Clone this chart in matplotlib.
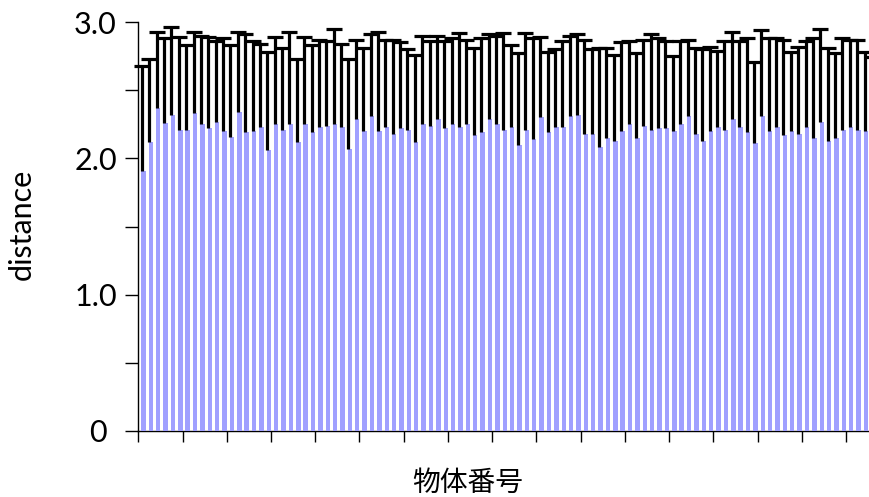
import numpy as np
import matplotlib
matplotlib.use("Agg")
import matplotlib.pyplot as plt
from matplotlib.ticker import FixedLocator, FixedFormatter, NullFormatter
from matplotlib.transforms import ScaledTranslation

# Mean distance per object and the upper error (one-sided)
object_ids = list(range(1, 101))
mean_distance = [
    1.91, 2.12, 2.37, 2.26, 2.32, 2.21, 2.21, 2.33, 2.25, 2.22,
    2.27, 2.20, 2.16, 2.34, 2.19, 2.20, 2.23, 2.06, 2.25, 2.21,
    2.25, 2.12, 2.25, 2.19, 2.23, 2.24, 2.25, 2.23, 2.07, 2.29,
    2.20, 2.31, 2.20, 2.23, 2.18, 2.22, 2.21, 2.12, 2.25, 2.24,
    2.29, 2.22, 2.25, 2.23, 2.25, 2.17, 2.19, 2.29, 2.25, 2.21,
    2.23, 2.10, 2.21, 2.14, 2.30, 2.19, 2.23, 2.23, 2.31, 2.32,
    2.18, 2.18, 2.08, 2.15, 2.13, 2.20, 2.25, 2.15, 2.24, 2.21,
    2.22, 2.22, 2.20, 2.25, 2.31, 2.18, 2.13, 2.20, 2.23, 2.21,
    2.29, 2.23, 2.19, 2.11, 2.31, 2.20, 2.23, 2.17, 2.20, 2.18,
    2.23, 2.15, 2.27, 2.13, 2.15, 2.21, 2.23, 2.21, 2.20, 2.20,
]
upper_error = [
    0.77, 0.61, 0.56, 0.62, 0.64, 0.68, 0.62, 0.60, 0.65, 0.67,
    0.59, 0.68, 0.67, 0.59, 0.72, 0.66, 0.61, 0.72, 0.64, 0.60,
    0.68, 0.61, 0.64, 0.64, 0.64, 0.62, 0.70, 0.61, 0.66, 0.58,
    0.61, 0.60, 0.73, 0.64, 0.69, 0.63, 0.59, 0.64, 0.65, 0.62,
    0.61, 0.64, 0.63, 0.69, 0.62, 0.64, 0.69, 0.62, 0.65, 0.71,
    0.60, 0.67, 0.71, 0.74, 0.59, 0.59, 0.57, 0.63, 0.59, 0.59,
    0.69, 0.62, 0.73, 0.66, 0.63, 0.65, 0.61, 0.62, 0.63, 0.70,
    0.66, 0.64, 0.55, 0.61, 0.56, 0.63, 0.67, 0.62, 0.56, 0.65,
    0.64, 0.63, 0.69, 0.60, 0.63, 0.68, 0.65, 0.70, 0.58, 0.64,
    0.63, 0.73, 0.68, 0.68, 0.62, 0.67, 0.64, 0.66, 0.58, 0.54,
]
y_ticks = [0, 0.5, 1.0, 1.5, 2.0, 2.5, 3.0]
y_tick_labels = ["0", "", "1.0", "", "2.0", "", "3.0"]
x_label = "物体番号"
y_label = "distance"

latin = ["Lato", "DejaVu Sans"]
cjk = ["Noto Sans CJK JP", "DejaVu Sans"]

W, H = 869, 497
fig = plt.figure(figsize=(W / 100, H / 100), dpi=100)
cell = 7.373  # pixels per object
x0, x1 = 0.5, 100.9
ax = fig.add_axes([138.3 / W, 66 / H, (x1 - x0) * cell / W, 409 / H])

ids = np.array(object_ids)
means = np.array(mean_distance)
errs = np.array(upper_error)
tops = means + errs

ax.bar(ids + 0.2, means, width=0.6, color="#a0a0ff", zorder=3, clip_on=False)

# one-sided error bars: stem from the bar top, cap only at the upper end
ax.vlines(ids, means, tops, colors="black", linewidth=2.3, zorder=4,
          clip_on=False)
ax.plot(ids, tops, linestyle="none", marker="_", markersize=11.6,
        markeredgewidth=2.3, color="black", zorder=4, clip_on=False)

ax.set_xlim(x0, x1)
ax.set_ylim(0, 3.0)

for side in ("top", "right"):
    ax.spines[side].set_visible(False)
for side in ("left", "bottom"):
    ax.spines[side].set_linewidth(1.0)
    ax.spines[side].set_color("black")

ax.xaxis.set_major_locator(FixedLocator(np.arange(0.5, 100, 6)))
ax.xaxis.set_major_formatter(NullFormatter())
ax.tick_params(axis="x", direction="out", length=7.7, width=1.0, color="black")

ax.yaxis.set_major_locator(FixedLocator(y_ticks))
ax.yaxis.set_major_formatter(FixedFormatter(y_tick_labels))
ax.tick_params(axis="y", direction="out", length=9.4, width=1.0, color="black",
               pad=6, labelsize=22)
fig.canvas.draw()
for lbl in ax.get_yticklabels():
    lbl.set_fontfamily(latin)
    if lbl.get_text() == "0":
        lbl.set_transform(lbl.get_transform()
                          + ScaledTranslation(-0.10, 0, fig.dpi_scale_trans))

fig.text(22 / W, 1 - 224 / H, y_label, rotation=90, ha="center", va="center",
         fontsize=22, family=latin)
fig.text(468 / W, 1 - 483 / H, x_label, ha="center", va="center",
         fontsize=20, family=cjk)

fig.savefig("out.png", dpi=100)
